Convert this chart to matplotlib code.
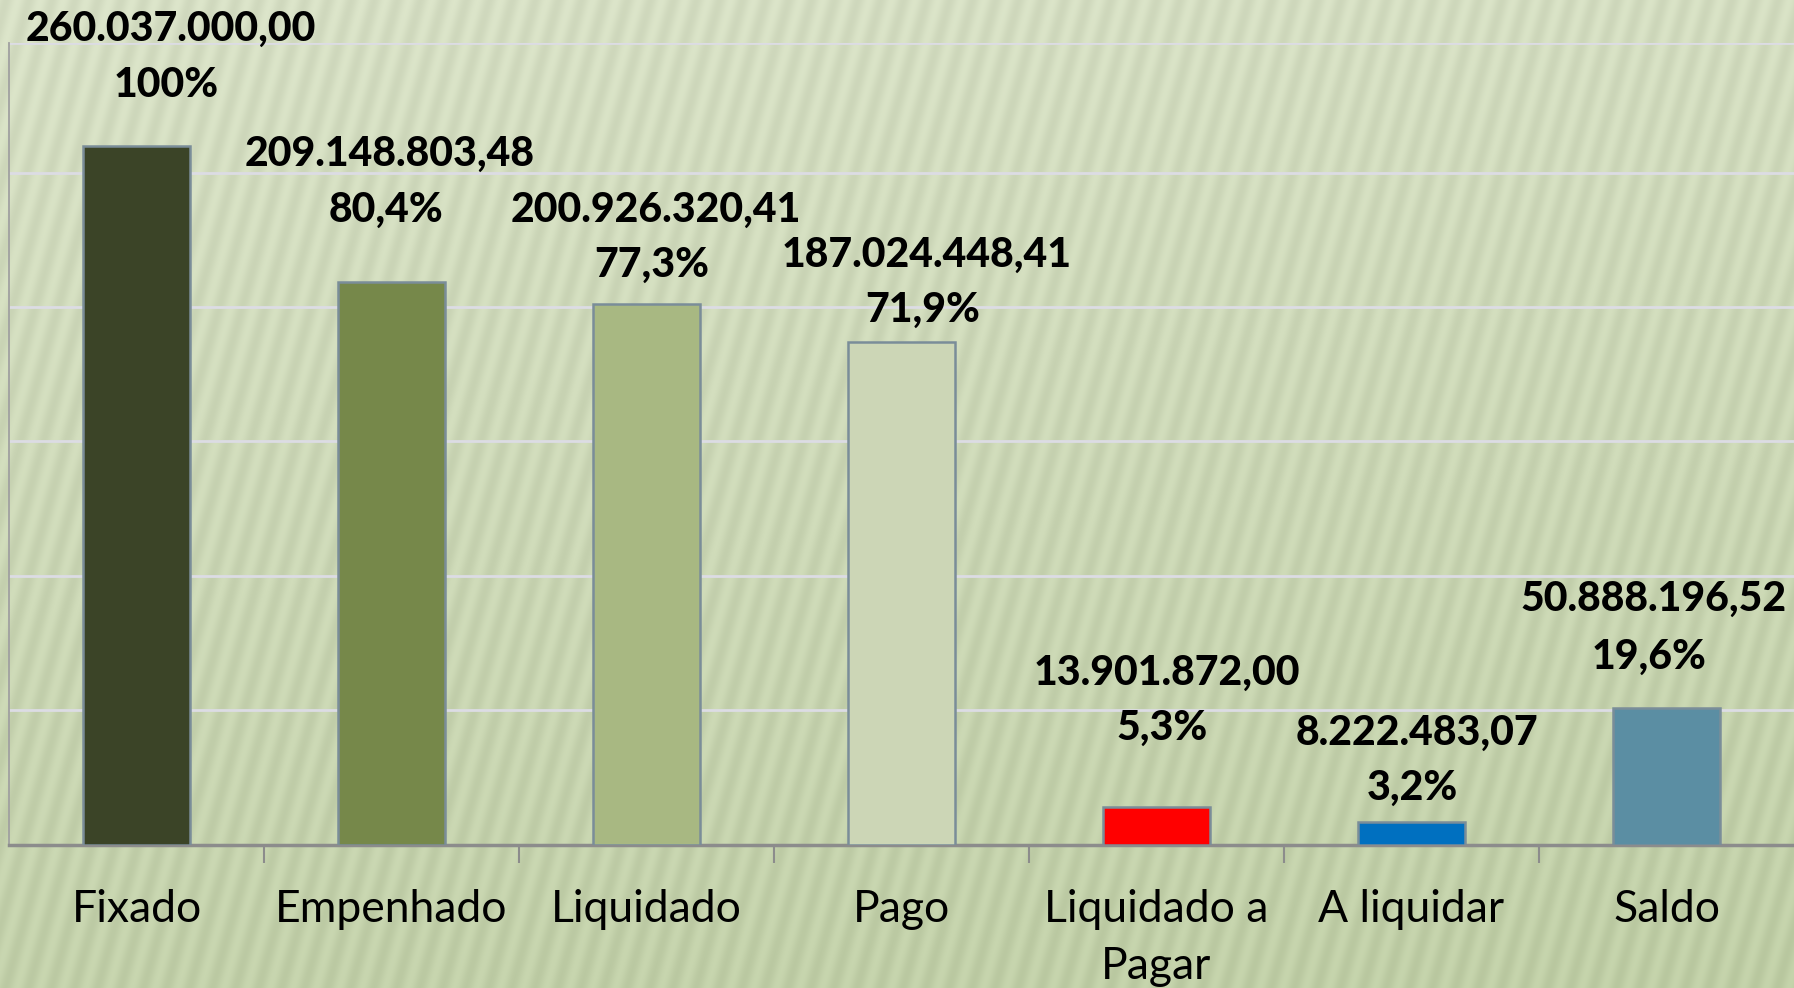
import numpy as np
import matplotlib
matplotlib.use("Agg")
import matplotlib.pyplot as plt
from matplotlib.ticker import FixedLocator, NullFormatter

# ---- data ----
categories = ["Fixado", "Empenhado", "Liquidado", "Pago", "Liquidado a\nPagar", "A liquidar", "Saldo"]
values = [260037000.00, 209148803.48, 200926320.41, 187024448.41, 13901872.00, 8222483.07, 50888196.52]
value_labels = ["260.037.000,00", "209.148.803,48", "200.926.320,41", "187.024.448,41",
                "13.901.872,00", "8.222.483,07", "50.888.196,52"]
pct_labels = ["100%", "80,4%", "77,3%", "71,9%", "5,3%", "3,2%", "19,6%"]

# ---- style ----
bar_colors = ["#3b4427", "#76884a", "#a8b882", "#ccd6b6", "#ff0000", "#0070c0", "#5b8ea3"]
# label offsets in pixels (dx, dy_value, dy_pct) relative to bar top centre
label_dx = [34, -2, 9, 25, 10, 5, -13]
label_dy_val = [117, 128, 95, 87, 134, 90, 109]
label_dy_pct = [61, 72, 40, 32, 79, 35, 51]

W, H = 1794, 988
fig = plt.figure(figsize=(W / 100, H / 100), dpi=100)

# background: green gradient with slanted stripes
yy, xx = np.mgrid[0:H, 0:W]
t = yy / H
light = np.array([224, 232, 207]) / 255.0
dark = np.array([196, 211, 170]) / 255.0
mix = np.clip(0.1 + 0.75 * t + 0.12 * (xx / W), 0, 1)[..., None]
base = light * (1 - mix) + dark * mix
stripe = 0.5 + 0.5 * np.sin(2 * np.pi * (xx + 0.28 * yy) / 23.0)
base = base - 0.05 * stripe[..., None]
bg_ax = fig.add_axes([0, 0, 1, 1], zorder=0)
bg_ax.imshow(np.clip(base, 0, 1), aspect="auto", extent=[0, 1, 0, 1], interpolation="bilinear")
bg_ax.axis("off")

ax = fig.add_axes([9 / W, (H - 844.5) / H, 1 - 9 / W, (844.5 - 43.5) / H], zorder=1)
ax.set_facecolor("none")

x = np.arange(len(categories))
bars = ax.bar(x, values, width=0.42, color=bar_colors, edgecolor="#7a8d99", linewidth=1.8, zorder=3)

ax.set_xlim(-0.5, len(categories) - 0.5)
ax.set_ylim(0, 298e6)
ax.set_yticks(np.arange(0, 250e6 + 1, 50e6))
ax.yaxis.set_major_formatter(NullFormatter())
ax.tick_params(axis="y", length=0)
ax.grid(axis="y", color="#dcdce4", linewidth=2, zorder=1)
ax.axhline(298e6, color="#dcdce4", linewidth=2, zorder=1)

ax.set_xticks(x)
ax.set_xticklabels(categories, fontsize=32, fontfamily="Lato", color="black", linespacing=1.5)
ax.tick_params(axis="x", which="major", length=0, pad=32)
ax.xaxis.set_minor_locator(FixedLocator(np.arange(0.5, len(categories) - 0.5, 1)))
ax.tick_params(axis="x", which="minor", length=13, width=1.5, color="#8c8c8c", direction="out")

for s in ["top", "right"]:
    ax.spines[s].set_visible(False)
ax.spines["left"].set_color("#a0a0a0")
ax.spines["left"].set_linewidth(1.3)
ax.spines["bottom"].set_color("#8c8c8c")
ax.spines["bottom"].set_linewidth(2.5)

for i, b in enumerate(bars):
    cx = b.get_x() + b.get_width() / 2
    top = b.get_height()
    ax.annotate(value_labels[i], (cx, top), xytext=(label_dx[i], label_dy_val[i]),
                textcoords="offset pixels", ha="center", va="center", fontsize=29.5,
                fontweight="black", fontfamily="Lato", annotation_clip=False, zorder=5)
    ax.annotate(pct_labels[i], (cx, top), xytext=(label_dx[i] - 4, label_dy_pct[i]),
                textcoords="offset pixels", ha="center", va="center", fontsize=29.5,
                fontweight="black", fontfamily="Lato", annotation_clip=False, zorder=5)

fig.savefig("out.png", dpi=100)
